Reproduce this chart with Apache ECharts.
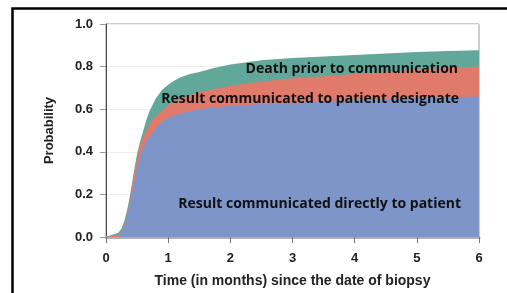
<!DOCTYPE html>
<html>
<head>
<meta charset="utf-8">
<script src="https://cdn.jsdelivr.net/npm/echarts@6/dist/echarts.min.js"></script>
<style>
html,body{margin:0;padding:0;background:#fff;}
#chart{width:507px;height:293px;}
</style>
</head>
<body>
<div id="chart"></div>
<script>
// Time in months since biopsy
var months = [0, 0.1, 0.2, 0.25, 0.3, 0.35, 0.4, 0.45, 0.5, 0.55, 0.6, 0.65, 0.7, 0.8, 0.9, 1.0, 1.1, 1.2, 1.35, 1.5, 1.75, 2, 2.5, 3, 3.5, 4, 4.5, 5, 5.5, 6];
// Cumulative probability (top edge of each stacked band)
var directTop = [0, 0, 0, 0.02, 0.06, 0.11, 0.18, 0.25, 0.32, 0.38, 0.42, 0.45, 0.47, 0.51, 0.54, 0.56, 0.57, 0.58, 0.59, 0.60, 0.608, 0.615, 0.625, 0.63, 0.637, 0.643, 0.648, 0.652, 0.656, 0.66];
var designateTop = [0, 0.005, 0.01, 0.025, 0.065, 0.12, 0.20, 0.29, 0.36, 0.43, 0.47, 0.50, 0.53, 0.57, 0.59, 0.62, 0.635, 0.65, 0.665, 0.68, 0.695, 0.71, 0.73, 0.745, 0.755, 0.765, 0.775, 0.785, 0.793, 0.80];
var deathTop = [0, 0.01, 0.02, 0.04, 0.08, 0.14, 0.22, 0.31, 0.39, 0.45, 0.50, 0.55, 0.59, 0.65, 0.69, 0.715, 0.735, 0.75, 0.765, 0.775, 0.795, 0.81, 0.83, 0.84, 0.848, 0.855, 0.862, 0.868, 0.873, 0.877];
var seriesNames = ['Result communicated directly to patient', 'Result communicated to patient designate', 'Death prior to communication'];
var xTicks = [0, 1, 2, 3, 4, 5, 6];
var yTicks = [0.0, 0.2, 0.4, 0.6, 0.8, 1.0];

function pairs(ys) { return months.map(function (m, i) { return [m, ys[i]]; }); }

var chart = echarts.init(document.getElementById('chart'), null, {renderer: 'canvas'});
var labelFont = {fontFamily: 'Open Sans', fontWeight: 'bold', fontSize: 14, fill: '#111'};

chart.setOption({
  animation: false,
  grid: {left: 106, right: 28, top: 24, bottom: 51.3, show: true, borderColor: '#9a9a9a', borderWidth: 1, backgroundColor: 'transparent'},
  xAxis: {
    type: 'value', min: 0, max: 6, interval: 1,
    name: 'Time (in months) since the date of biopsy', nameLocation: 'middle', nameGap: 37,
    nameTextStyle: {fontFamily: 'Liberation Sans', fontWeight: 'bold', fontSize: 14, color: '#222'},
    axisLine: {show: true, lineStyle: {color: '#b0b0b0', width: 3}},
    axisTick: {show: true, length: 6, lineStyle: {color: '#777', width: 1}},
    axisLabel: {margin: 15, fontFamily: 'Liberation Sans', fontWeight: 'bold', fontSize: 13, color: '#222',
      formatter: function (v) { return xTicks.indexOf(v) >= 0 ? String(v) : ''; }},
    splitLine: {show: false}
  },
  yAxis: {
    type: 'value', min: 0, max: 1, interval: 0.2,
    name: 'Probability', nameLocation: 'middle', nameGap: 50,
    nameTextStyle: {fontFamily: 'Liberation Sans', fontWeight: 'bold', fontSize: 13, color: '#222'},
    axisLine: {show: true, lineStyle: {color: '#444', width: 1}},
    axisTick: {show: true, length: 6, lineStyle: {color: '#999', width: 1}},
    axisLabel: {margin: 13, fontFamily: 'Liberation Sans', fontWeight: 'bold', fontSize: 13, color: '#222',
      formatter: function (v) { return v.toFixed(1); }},
    splitLine: {show: true, lineStyle: {color: '#eeeeee', width: 1}}
  },
  series: [
    {name: seriesNames[2], type: 'line', data: pairs(deathTop), showSymbol: false, smooth: false,
      lineStyle: {width: 0}, areaStyle: {color: '#62a89a', opacity: 1}, z: 2},
    {name: seriesNames[1], type: 'line', data: pairs(designateTop), showSymbol: false, smooth: false,
      lineStyle: {width: 0}, areaStyle: {color: '#e07b6c', opacity: 1}, z: 3},
    {name: seriesNames[0], type: 'line', data: pairs(directTop), showSymbol: false, smooth: false,
      lineStyle: {width: 0}, areaStyle: {color: '#7d95c9', opacity: 1}, z: 4}
  ],
  graphic: [
    {type: 'rect', shape: {x: 12.5, y: 8.5, width: 600, height: 400}, style: {fill: 'none', stroke: '#000', lineWidth: 2.5}, silent: true, z: 100},
    {type: 'text', right: 507 - 458, top: 62, style: Object.assign({text: seriesNames[2]}, labelFont), z: 50},
    {type: 'text', right: 507 - 459, top: 92, style: Object.assign({text: seriesNames[1]}, labelFont), z: 50},
    {type: 'text', right: 507 - 461, top: 197, style: Object.assign({text: seriesNames[0]}, labelFont), z: 50}
  ]
});
</script>
</body>
</html>
